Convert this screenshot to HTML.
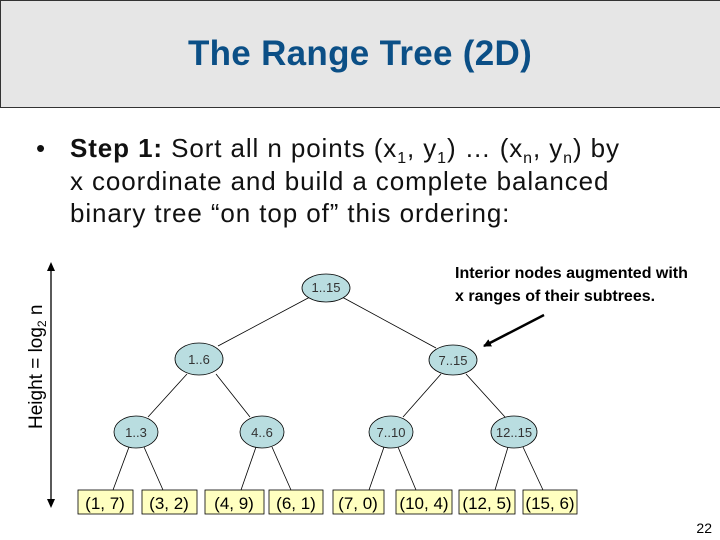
<!DOCTYPE html>
<html><head><meta charset="utf-8"><style>
body{margin:0;width:720px;height:540px;background:#fff;position:relative;overflow:hidden;font-family:"Liberation Sans",Arial,sans-serif}
.hdr{position:absolute;left:0;top:0;width:719px;height:106px;background:#e6e6e6;border:1px solid #333}
.title{position:absolute;left:0;width:720px;top:34px;text-align:center;font-size:35px;color:#0b4f86;font-weight:bold;letter-spacing:0.3px}
.b{position:absolute;left:70px;font-size:26px;color:#111;white-space:nowrap;letter-spacing:0.9px}
sub{font-size:16px;vertical-align:-6px;line-height:0}
</style></head><body>
<div class="hdr"></div>
<div class="title">The Range Tree (2D)</div>
<div class="b" style="left:36px;top:133px">•</div>
<div class="b" style="top:133px"><b>Step 1:</b> Sort all n points (x<sub>1</sub>, y<sub>1</sub>) … (x<sub>n</sub>, y<sub>n</sub>) by</div>
<div class="b" style="top:166px">x coordinate and build a complete balanced</div>
<div class="b" style="top:198px">binary tree “on top of” this ordering:</div>
<svg width="720" height="540" style="position:absolute;left:0;top:0" font-family="Liberation Sans,Arial,sans-serif">
<defs><marker id="a" markerWidth="8" markerHeight="8" refX="7" refY="4" orient="auto" markerUnits="userSpaceOnUse"><path d="M0,0L8,4L0,8z" fill="#000"/></marker></defs>
<g stroke="#000" stroke-width="0.8">
<line x1="310" y1="297" x2="218" y2="346"/><line x1="342" y1="297" x2="436" y2="348"/>
<line x1="187" y1="374" x2="148" y2="417"/><line x1="216" y1="374" x2="250" y2="417"/>
<line x1="441" y1="374" x2="403" y2="417"/><line x1="466" y1="374" x2="505" y2="417"/>
<line x1="129" y1="447" x2="113" y2="490"/><line x1="144" y1="447" x2="163" y2="490"/>
<line x1="256" y1="447" x2="241" y2="490"/><line x1="272" y1="447" x2="291" y2="490"/>
<line x1="384" y1="447" x2="369" y2="490"/><line x1="398" y1="447" x2="416" y2="490"/>
<line x1="508" y1="447" x2="495" y2="490"/><line x1="523" y1="447" x2="543" y2="490"/>
</g>
<g fill="#b9dde0" stroke="#000" stroke-width="0.8">
<ellipse cx="326" cy="288" rx="24" ry="14"/><ellipse cx="199" cy="359" rx="24" ry="16"/><ellipse cx="453" cy="360" rx="24" ry="15"/>
<ellipse cx="136" cy="432" rx="22" ry="16"/><ellipse cx="262" cy="432" rx="22" ry="16"/><ellipse cx="391" cy="432" rx="22" ry="16"/><ellipse cx="514" cy="432" rx="23" ry="16"/>
</g>
<g font-size="13" fill="#333" text-anchor="middle">
<text x="326" y="292">1..15</text><text x="199" y="364">1..6</text><text x="453" y="365">7..15</text>
<text x="136" y="437">1..3</text><text x="262" y="437">4..6</text><text x="391" y="437">7..10</text><text x="514" y="437">12..15</text>
</g>
<g fill="#ffffc0" stroke="#000" stroke-width="0.8">
<rect x="78" y="490" width="55" height="24"/><rect x="142" y="490" width="55" height="24"/><rect x="205" y="490" width="59" height="24"/><rect x="269" y="490" width="54" height="24"/>
<rect x="333" y="490" width="51" height="24"/><rect x="396" y="490" width="56" height="24"/><rect x="459" y="490" width="56" height="24"/><rect x="523" y="490" width="54" height="24"/>
</g>
<g font-size="17" fill="#000" text-anchor="middle">
<text x="105" y="509">(1, 7)</text><text x="169" y="509">(3, 2)</text><text x="234" y="509">(4, 9)</text><text x="296" y="509">(6, 1)</text>
<text x="358" y="509">(7, 0)</text><text x="424" y="509">(10, 4)</text><text x="487" y="509">(12, 5)</text><text x="550" y="509">(15, 6)</text>
</g>
<line x1="51" y1="270" x2="51" y2="500" stroke="#000" stroke-width="1.3"/>
<path d="M51,262L47,271L55,271z M51,508L47,499L55,499z" fill="#000"/>
<text transform="translate(42,429) rotate(-90)" font-size="19" fill="#000">Height = log<tspan font-size="12" dy="4">2</tspan><tspan dy="-4"> n</tspan></text>
<line x1="544" y1="315" x2="484" y2="346" stroke="#000" stroke-width="2.5" marker-end="url(#a)"/>
<g font-size="16" fill="#000" font-weight="bold">
<text x="455" y="278">Interior nodes augmented with</text><text x="455" y="301">x ranges of their subtrees.</text>
</g>
<text x="712" y="533" font-size="14" text-anchor="end" fill="#000">22</text>
</svg>
</body></html>
